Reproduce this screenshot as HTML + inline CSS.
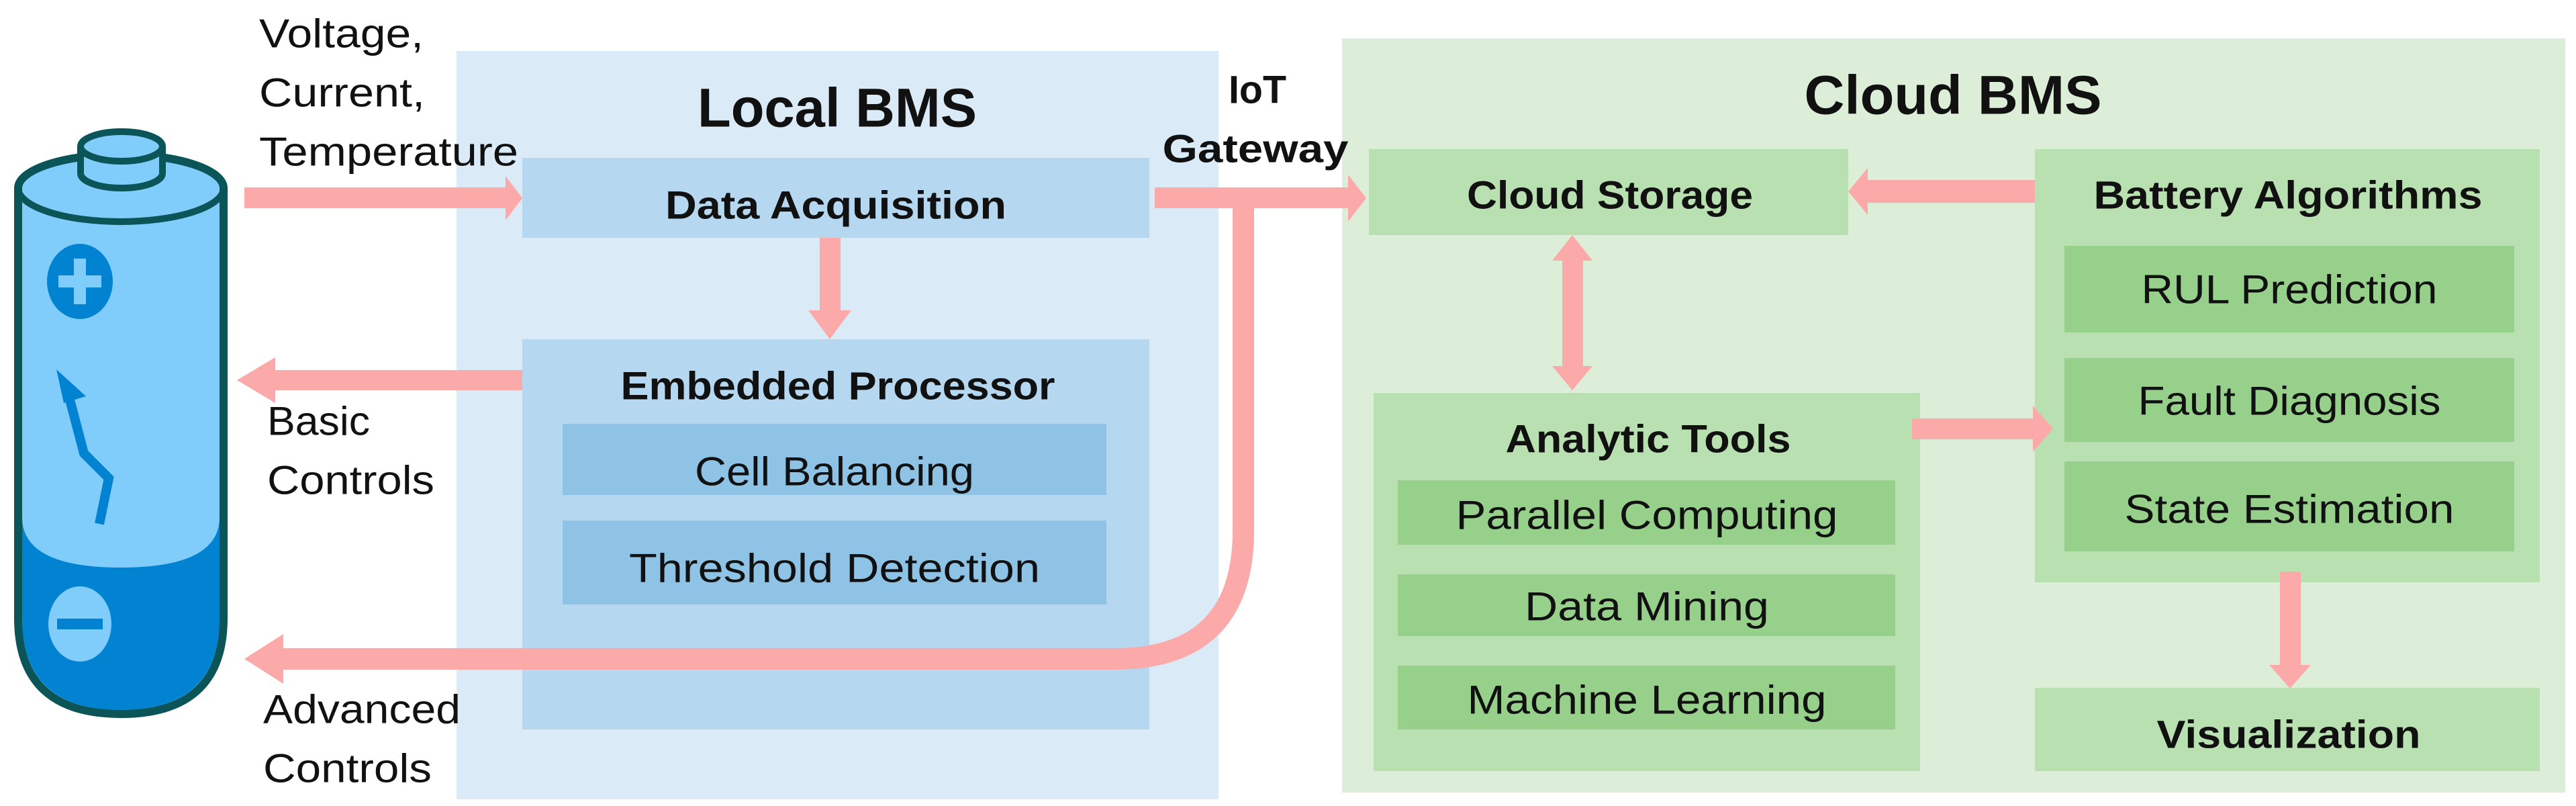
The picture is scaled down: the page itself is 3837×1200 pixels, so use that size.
<!DOCTYPE html>
<html><head><meta charset="utf-8"><style>
html,body{margin:0;padding:0;background:#fff;}
svg{display:block;}
text{font-family:"Liberation Sans Narrow","Liberation Sans",sans-serif;fill:#111;dominant-baseline:central;text-anchor:middle;}
text.l{text-anchor:start;}
.b{font-weight:bold;}
</style></head><body>
<svg width="3837" height="1200" viewBox="0 0 3837 1200" xmlns="http://www.w3.org/2000/svg">
<!-- Local BMS -->
<rect x="680" y="76" width="1135" height="1114" fill="#daeaf6"/>
<rect x="778" y="235" width="934" height="119" fill="#b5d7ef"/>
<rect x="778" y="505" width="934" height="581" fill="#b5d7ef"/>
<rect x="838" y="631" width="810" height="106" fill="#8ec3e6"/>
<rect x="838" y="775" width="810" height="125" fill="#8ec3e6"/>
<!-- Cloud BMS -->
<rect x="1999" y="57" width="1822" height="1123" fill="#ddeed8"/>
<rect x="2039" y="222" width="714" height="128" fill="#b9e0b0"/>
<rect x="3031" y="222" width="752" height="645" fill="#b9e0b0"/>
<rect x="3075" y="366" width="670" height="129" fill="#96d08a"/>
<rect x="3075" y="533" width="670" height="125" fill="#96d08a"/>
<rect x="3075" y="687" width="670" height="134" fill="#96d08a"/>
<rect x="2046" y="585" width="814" height="563" fill="#b9e0b0"/>
<rect x="2082" y="715" width="741" height="96" fill="#96d08a"/>
<rect x="2082" y="855" width="741" height="92" fill="#96d08a"/>
<rect x="2082" y="991" width="741" height="95" fill="#96d08a"/>
<rect x="3031" y="1024" width="752" height="124" fill="#b9e0b0"/>

<!-- Arrows -->
<g fill="#fca9a9">
<rect x="364" y="279" width="395" height="31"/><polygon points="778,295 753,262 753,328"/>
<rect x="1221" y="354" width="31" height="110"/><polygon points="1236,505 1204,462 1268,462"/>
<rect x="410" y="551" width="368" height="30"/><polygon points="353,566 410,532 410,600"/>
<rect x="1720" y="279" width="290" height="31"/><polygon points="2035,295 2008,260 2008,330"/>
<rect x="2780" y="268" width="251" height="34"/><polygon points="2753,285 2782,250 2782,320"/>
<rect x="2327" y="385" width="31" height="165"/>
<polygon points="2342,350 2312,388 2372,388"/><polygon points="2342,581 2312,545 2372,545"/>
<rect x="2848" y="623" width="182" height="31"/><polygon points="3058,638 3028,604 3028,673"/>
<rect x="3396" y="851" width="31" height="140"/><polygon points="3411,1025 3380,990 3442,990"/>
<polygon points="364,981 422,944 422,1018"/>
</g>
<path d="M1852,295 L1852,790 Q1852,981 1660,981 L415,981" fill="none" stroke="#fca9a9" stroke-width="32"/>

<!-- Battery -->
<path d="M27,280 A153,50 0 0 1 333,280 L333,920 Q333,1063 180,1063 Q27,1063 27,920 Z" fill="#80ccfb"/>
<path d="M33,770 Q33,845 180,845 Q327,845 327,770 L327,920 Q327,1057 180,1057 Q33,1057 33,920 Z" fill="#0283d2"/>
<path d="M27,280 A153,50 0 0 1 333,280 L333,920 Q333,1063 180,1063 Q27,1063 27,920 Z" fill="none" stroke="#0b5457" stroke-width="12"/>
<path d="M27,280 A153,50 0 0 0 333,280" fill="none" stroke="#0b5457" stroke-width="10"/>
<path d="M120,218 L120,258 A61,22 0 0 0 242,258 L242,218" fill="#80ccfb" stroke="#0b5457" stroke-width="10"/>
<ellipse cx="181" cy="218" rx="61" ry="22" fill="#80ccfb" stroke="#0b5457" stroke-width="10"/>
<ellipse cx="119" cy="419" rx="49" ry="56" fill="#0283d2"/>
<rect x="87" y="410" width="64" height="18" fill="#80ccfb"/><rect x="110" y="385" width="18" height="68" fill="#80ccfb"/>
<ellipse cx="119" cy="929" rx="47" ry="56" fill="#80ccfb"/>
<rect x="85" y="921" width="68" height="16" fill="#0283d2"/>
<path d="M100,580 L125,675 L162,712 L148,780" fill="none" stroke="#0283d2" stroke-width="14" stroke-linejoin="miter"/>
<polygon points="84,550 128,590 95,600" fill="#0283d2"/>

<!-- Texts -->
<text class="l" x="386" y="50" font-size="60" textLength="245" lengthAdjust="spacingAndGlyphs">Voltage,</text>
<text class="l" x="386" y="138" font-size="60" textLength="247" lengthAdjust="spacingAndGlyphs">Current,</text>
<text class="l" x="386" y="226" font-size="60" textLength="386" lengthAdjust="spacingAndGlyphs">Temperature</text>
<text class="l" x="398" y="627" font-size="60" textLength="153" lengthAdjust="spacingAndGlyphs">Basic</text>
<text class="l" x="398" y="715" font-size="60" textLength="249" lengthAdjust="spacingAndGlyphs">Controls</text>
<text class="l" x="392" y="1056" font-size="60" textLength="294" lengthAdjust="spacingAndGlyphs">Advanced</text>
<text class="l" x="392" y="1144" font-size="60" textLength="251" lengthAdjust="spacingAndGlyphs">Controls</text>
<text class="b" x="1873" y="134" font-size="58" textLength="86" lengthAdjust="spacingAndGlyphs">IoT</text>
<text class="b" x="1870" y="222" font-size="58" textLength="277" lengthAdjust="spacingAndGlyphs">Gateway</text>
<text class="b" x="1247" y="161" font-size="82" textLength="416" lengthAdjust="spacingAndGlyphs">Local BMS</text>
<text class="b" x="1245" y="306" font-size="58" textLength="508" lengthAdjust="spacingAndGlyphs">Data Acquisition</text>
<text class="b" x="1248" y="575" font-size="58" textLength="647" lengthAdjust="spacingAndGlyphs">Embedded Processor</text>
<text x="1243" y="702" font-size="60" textLength="416" lengthAdjust="spacingAndGlyphs">Cell Balancing</text>
<text x="1243" y="846" font-size="60" textLength="612" lengthAdjust="spacingAndGlyphs">Threshold Detection</text>
<text class="b" x="2909" y="142" font-size="82" textLength="443" lengthAdjust="spacingAndGlyphs">Cloud BMS</text>
<text class="b" x="2398" y="291" font-size="58" textLength="426" lengthAdjust="spacingAndGlyphs">Cloud Storage</text>
<text class="b" x="3408" y="291" font-size="58" textLength="579" lengthAdjust="spacingAndGlyphs">Battery Algorithms</text>
<text x="3410" y="431" font-size="60" textLength="441" lengthAdjust="spacingAndGlyphs">RUL Prediction</text>
<text x="3410" y="597" font-size="60" textLength="451" lengthAdjust="spacingAndGlyphs">Fault Diagnosis</text>
<text x="3410" y="758" font-size="60" textLength="491" lengthAdjust="spacingAndGlyphs">State Estimation</text>
<text class="b" x="2455" y="654" font-size="58" textLength="425" lengthAdjust="spacingAndGlyphs">Analytic Tools</text>
<text x="2453" y="767" font-size="60" textLength="569" lengthAdjust="spacingAndGlyphs">Parallel Computing</text>
<text x="2453" y="903" font-size="60" textLength="364" lengthAdjust="spacingAndGlyphs">Data Mining</text>
<text x="2453" y="1042" font-size="60" textLength="535" lengthAdjust="spacingAndGlyphs">Machine Learning</text>
<text class="b" x="3409" y="1094" font-size="58" textLength="393" lengthAdjust="spacingAndGlyphs">Visualization</text>
</svg>
</body></html>
